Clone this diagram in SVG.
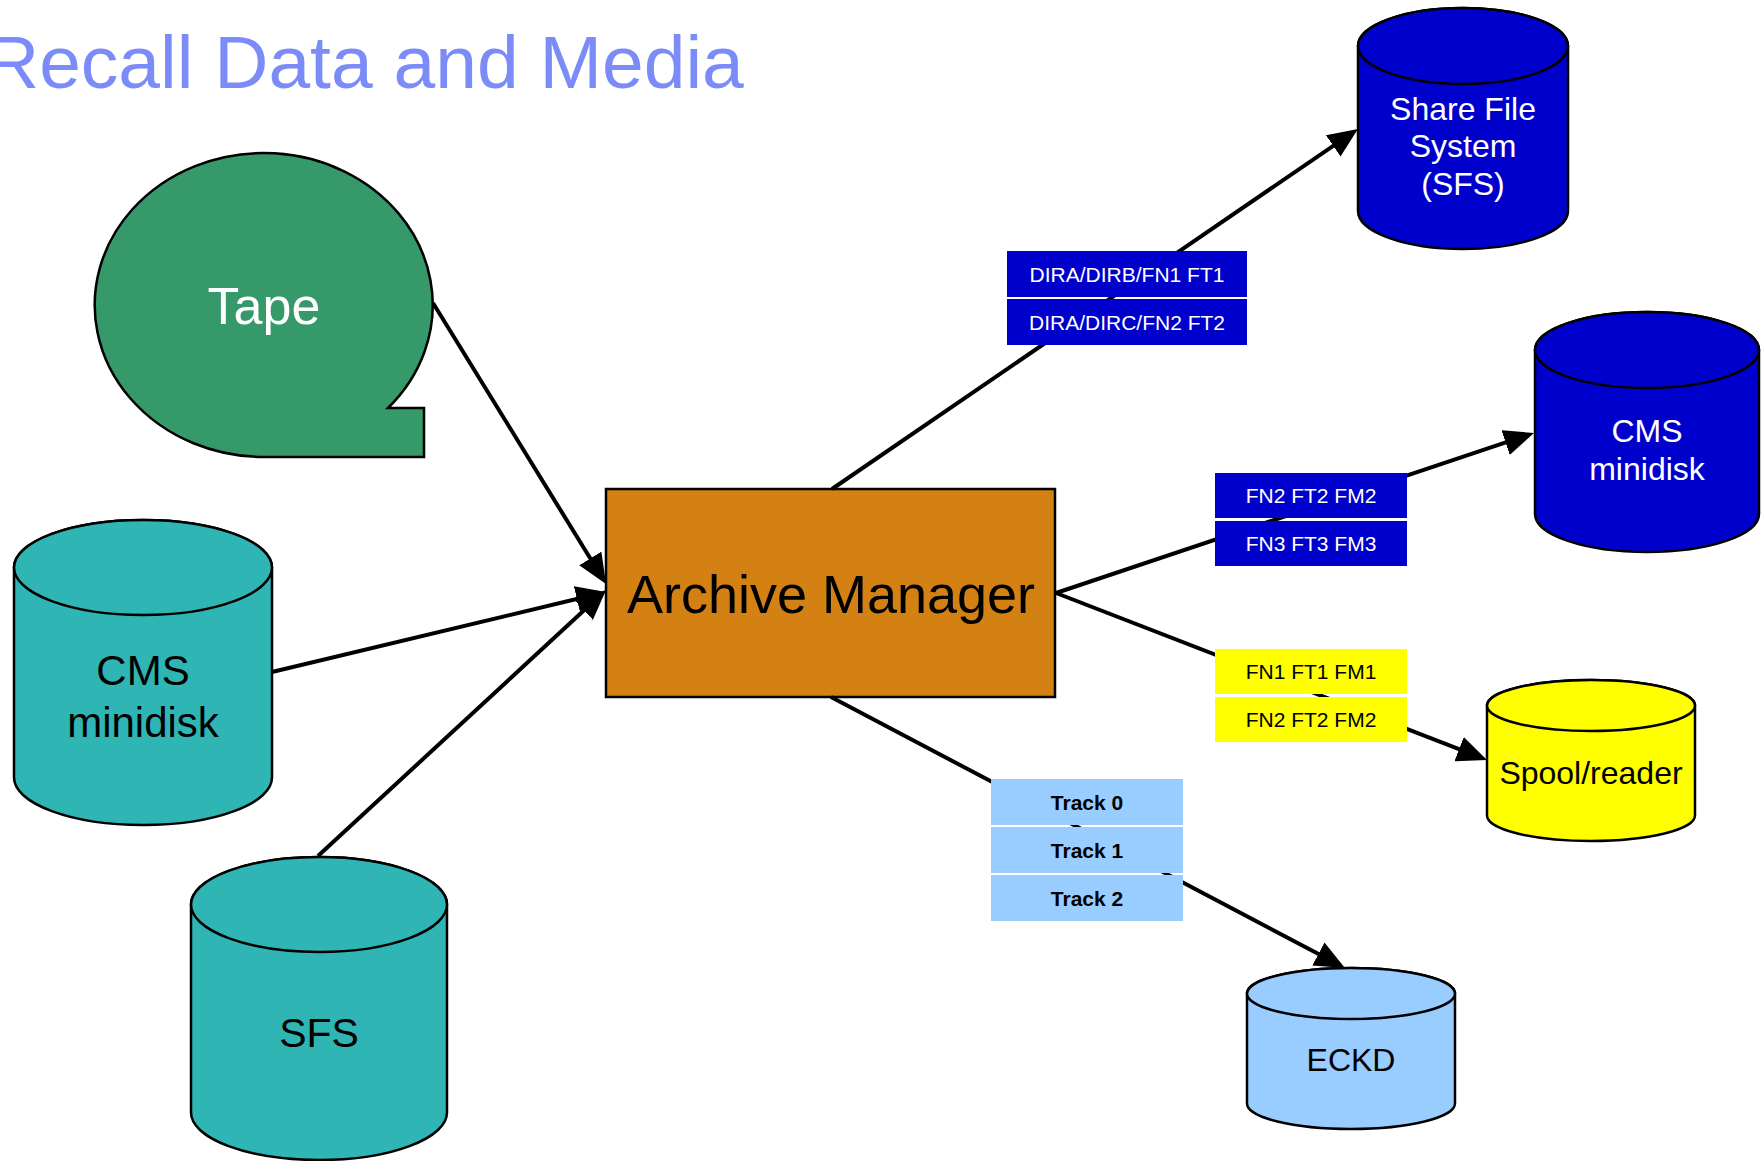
<svg xmlns="http://www.w3.org/2000/svg" width="1761" height="1161" viewBox="0 0 1761 1161">
<style>
text{font-family:"Liberation Sans",Arial,Helvetica,sans-serif}
.shape{stroke:#000;stroke-width:2.5}
.conn{stroke:#000;stroke-width:4;fill:none}
.lbl{font-size:21px;text-anchor:middle}
.w{fill:#fff}
.k{fill:#000}
.mid{text-anchor:middle}
.blue{fill:#0000cc}
.teal{fill:#2eb5b4}
.yel{fill:#ffff00}
.lb{fill:#99ccff}
</style>
<defs>
<marker id="ah" markerUnits="userSpaceOnUse" markerWidth="30" markerHeight="26" refX="20" refY="13" orient="auto">
<path d="M0,0 L30,13 L0,26 z" fill="#000"/>
</marker>
</defs>
<rect width="1761" height="1161" fill="#fff"/>
<text x="-15" y="88" font-size="75" fill="#7b8cf8">Recall Data and Media</text>

<g id="tape">
<path class="shape" fill="#35996a" d="M264,457 A169,152 0 1,1 388,408 L424,408 L424,457 Z"/>
<text x="264" y="324" font-size="52" class="w mid">Tape</text>
</g>

<g id="cms-left">
<path class="shape teal" d="M14,567.5 V777.5 A129,47.5 0 0 0 272,777.5 V567.5 A129,47.5 0 0 0 14,567.5 Z"/>
<ellipse class="shape teal" cx="143" cy="567.5" rx="129" ry="47.5"/>
<text x="143" y="685" font-size="42" class="k mid">CMS</text>
<text x="143" y="737" font-size="42" class="k mid">minidisk</text>
</g>

<g id="sfs-left">
<path class="shape teal" d="M191,904.5 V1112.5 A128,47.5 0 0 0 447,1112.5 V904.5 A128,47.5 0 0 0 191,904.5 Z"/>
<ellipse class="shape teal" cx="319" cy="904.5" rx="128" ry="47.5"/>
<text x="319" y="1047" font-size="41" class="k mid">SFS</text>
</g>

<g id="archive-manager">
<rect class="shape" x="606" y="489" width="449" height="208" fill="#d38113"/>
<text x="831" y="613" font-size="54" class="k mid">Archive Manager</text>
</g>

<g id="sfs-right">
<path class="shape blue" d="M1358,46 V211 A105,38 0 0 0 1568,211 V46 A105,38 0 0 0 1358,46 Z"/>
<ellipse class="shape blue" cx="1463" cy="46" rx="105" ry="38"/>
<text x="1463" y="120" font-size="32" class="w mid">Share File</text>
<text x="1463" y="157" font-size="32" class="w mid">System</text>
<text x="1463" y="195" font-size="32" class="w mid">(SFS)</text>
</g>

<g id="cms-right">
<path class="shape blue" d="M1535,350 V514 A112,38 0 0 0 1759,514 V350 A112,38 0 0 0 1535,350 Z"/>
<ellipse class="shape blue" cx="1647" cy="350" rx="112" ry="38"/>
<text x="1647" y="442" font-size="32" class="w mid">CMS</text>
<text x="1647" y="480" font-size="32" class="w mid">minidisk</text>
</g>

<g id="spool">
<path class="shape yel" d="M1487,705.5 V815.5 A104,25.5 0 0 0 1695,815.5 V705.5 A104,25.5 0 0 0 1487,705.5 Z"/>
<ellipse class="shape yel" cx="1591" cy="705.5" rx="104" ry="25.5"/>
<text x="1591" y="784" font-size="32" class="k mid">Spool/reader</text>
</g>

<g id="eckd">
<path class="shape lb" d="M1247,993.5 V1103.5 A104,25.5 0 0 0 1455,1103.5 V993.5 A104,25.5 0 0 0 1247,993.5 Z"/>
<ellipse class="shape lb" cx="1351" cy="993.5" rx="104" ry="25.5"/>
<text x="1351" y="1071" font-size="32" class="k mid">ECKD</text>
</g>

<g id="connectors">
<line class="conn" x1="433" y1="303" x2="600.8" y2="575.5" marker-end="url(#ah)"/>
<line class="conn" x1="272" y1="672" x2="596.3" y2="594.3" marker-end="url(#ah)"/>
<line class="conn" x1="318" y1="856" x2="598.7" y2="596.8" marker-end="url(#ah)"/>
<line class="conn" x1="832" y1="489" x2="1349.7" y2="134.6" marker-end="url(#ah)"/>
<line class="conn" x1="1056" y1="593" x2="1524.5" y2="436.2" marker-end="url(#ah)"/>
<line class="conn" x1="1056" y1="593" x2="1477.7" y2="756.4" marker-end="url(#ah)"/>
<line class="conn" x1="831" y1="697" x2="1336.1" y2="963.3" marker-end="url(#ah)"/>
</g>

<g id="label-sfs">
<rect class="blue" x="1007" y="251" width="240" height="46"/>
<rect class="blue" x="1007" y="299" width="240" height="46"/>
<text x="1127" y="282" class="lbl w">DIRA/DIRB/FN1 FT1</text>
<text x="1127" y="330" class="lbl w">DIRA/DIRC/FN2 FT2</text>
</g>

<g id="label-cms">
<rect class="blue" x="1215" y="473" width="192" height="45"/>
<rect class="blue" x="1215" y="521" width="192" height="45"/>
<text x="1311" y="503" class="lbl w">FN2 FT2 FM2</text>
<text x="1311" y="551" class="lbl w">FN3 FT3 FM3</text>
</g>

<g id="label-spool">
<rect class="yel" x="1215" y="649" width="192" height="45"/>
<rect class="yel" x="1215" y="697" width="192" height="45"/>
<text x="1311" y="679" class="lbl k">FN1 FT1 FM1</text>
<text x="1311" y="727" class="lbl k">FN2 FT2 FM2</text>
</g>

<g id="label-eckd">
<rect class="lb" x="991" y="779" width="192" height="46"/>
<rect class="lb" x="991" y="827" width="192" height="46"/>
<rect class="lb" x="991" y="875" width="192" height="46"/>
<text x="1087" y="810" class="lbl k" font-weight="bold">Track 0</text>
<text x="1087" y="858" class="lbl k" font-weight="bold">Track 1</text>
<text x="1087" y="906" class="lbl k" font-weight="bold">Track 2</text>
</g>
</svg>
